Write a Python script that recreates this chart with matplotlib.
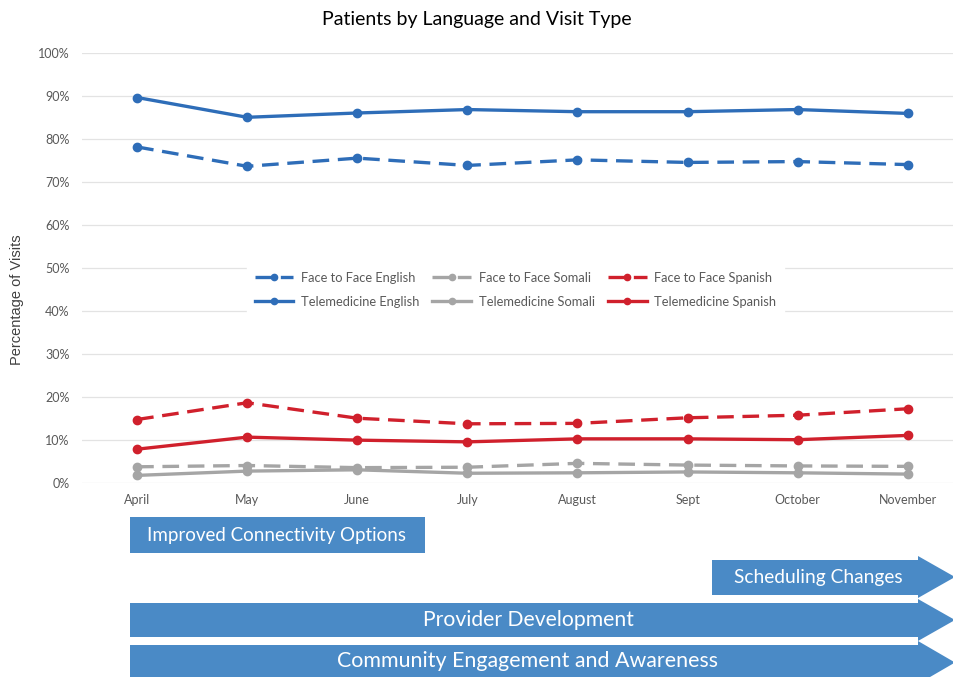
import matplotlib.pyplot as plt
from matplotlib.patches import Polygon, Rectangle

months = ['April', 'May', 'June', 'July', 'August', 'Sept', 'October', 'November']

ftf_english = [78.1, 73.6, 75.5, 73.8, 75.1, 74.5, 74.7, 74.0]
tele_english = [89.6, 85.0, 86.0, 86.8, 86.3, 86.3, 86.8, 85.9]
ftf_somali = [3.7, 4.0, 3.5, 3.6, 4.5, 4.1, 3.9, 3.8]
tele_somali = [1.7, 2.7, 3.0, 2.2, 2.3, 2.5, 2.3, 2.0]
ftf_spanish = [14.7, 18.6, 15.0, 13.7, 13.8, 15.1, 15.7, 17.2]
tele_spanish = [7.8, 10.6, 9.9, 9.5, 10.2, 10.2, 10.0, 11.0]

initiatives = ['Improved Connectivity Options', 'Scheduling Changes',
               'Provider Development', 'Community Engagement and Awareness']

blue = '#2e6db8'
gray = '#a5a5a5'
red = '#d0202c'
arrow_blue = '#4a8ac6'

plt.rcParams['font.family'] = ['Lato', 'DejaVu Sans']

fig = plt.figure(figsize=(9.54, 6.77), dpi=100)
ax = fig.add_axes([0.086, 0.287, 0.914, 0.635])

x = list(range(len(months)))
series = [
    ('Face to Face English', ftf_english, blue, '--'),
    ('Telemedicine English', tele_english, blue, '-'),
    ('Face to Face Somali', ftf_somali, gray, '--'),
    ('Telemedicine Somali', tele_somali, gray, '-'),
    ('Face to Face Spanish', ftf_spanish, red, '--'),
    ('Telemedicine Spanish', tele_spanish, red, '-'),
]
for name, vals, col, ls in series:
    line, = ax.plot(x, vals, color=col, linestyle=ls, linewidth=2.4,
                    marker='o', markersize=6, label=name, zorder=3)
    if ls == '--':
        line.set_dashes((5, 2.6))

ax.set_xlim(-0.5, 7.42)
ax.set_ylim(0, 100)
ax.set_yticks(range(0, 101, 10))
ax.set_yticklabels([str(v) + '%' for v in range(0, 101, 10)])
ax.set_xticks(x)
ax.set_xticklabels(months)
ax.tick_params(length=0, labelsize=9, labelcolor='#595959')
ax.tick_params(axis='x', pad=8)
ax.tick_params(axis='y', pad=9)
ax.grid(axis='y', color='#e3e3e3', linewidth=0.9)
ax.set_axisbelow(True)
for s in ax.spines.values():
    s.set_visible(False)

leg = ax.legend(ncol=3, loc='center', bbox_to_anchor=(0.497, 0.449),
                fontsize=9.3, frameon=True, handlelength=3.0, columnspacing=1.0,
                handletextpad=0.6, borderpad=0.6, labelspacing=0.95)
leg.get_frame().set_facecolor('white')
leg.get_frame().set_edgecolor('white')
leg.get_frame().set_alpha(1)
for t in leg.get_texts():
    t.set_color('#595959')
for h in leg.legend_handles:
    h.set_markersize(4.5)

fig.text(0.5, 1 - 20 / 677, 'Patients by Language and Visit Type',
         ha='center', va='center', fontsize=14)
fig.text(17 / 954, 1 - 300 / 677, 'Percentage of Visits', rotation=90,
         ha='center', va='center', fontsize=10.5, color='#404040',
         family=['Liberation Sans', 'DejaVu Sans'])

# timeline of initiatives drawn in pixel space below the chart
ov = fig.add_axes([0, 0, 1, 1])
ov.set_xlim(0, 954)
ov.set_ylim(677, 0)
ov.axis('off')


def arrow(x0, y0, y1, xb, xt, hy0, hy1):
    pts = [(x0, y0), (xb, y0), (xb, hy0), (xt, (hy0 + hy1) / 2),
           (xb, hy1), (xb, y1), (x0, y1)]
    ov.add_patch(Polygon(pts, closed=True, facecolor=arrow_blue, edgecolor='none'))


ov.add_patch(Rectangle((130, 517), 295, 36, facecolor=arrow_blue, edgecolor='none'))
ov.text(277, 535.5, initiatives[0], color='white', ha='center', va='center', fontsize=13.5)

arrow(712, 560, 595, 918, 955, 556, 598)
ov.text(818, 578, initiatives[1], color='white', ha='center', va='center', fontsize=13.8)

arrow(130, 603, 637, 918, 955, 599, 641)
ov.text(528, 620, initiatives[2], color='white', ha='center', va='center', fontsize=15.2)

arrow(130, 645, 680, 918, 955, 641, 684)
ov.text(528, 661, initiatives[3], color='white', ha='center', va='center', fontsize=15.4)

plt.savefig('out.png', dpi=100)
